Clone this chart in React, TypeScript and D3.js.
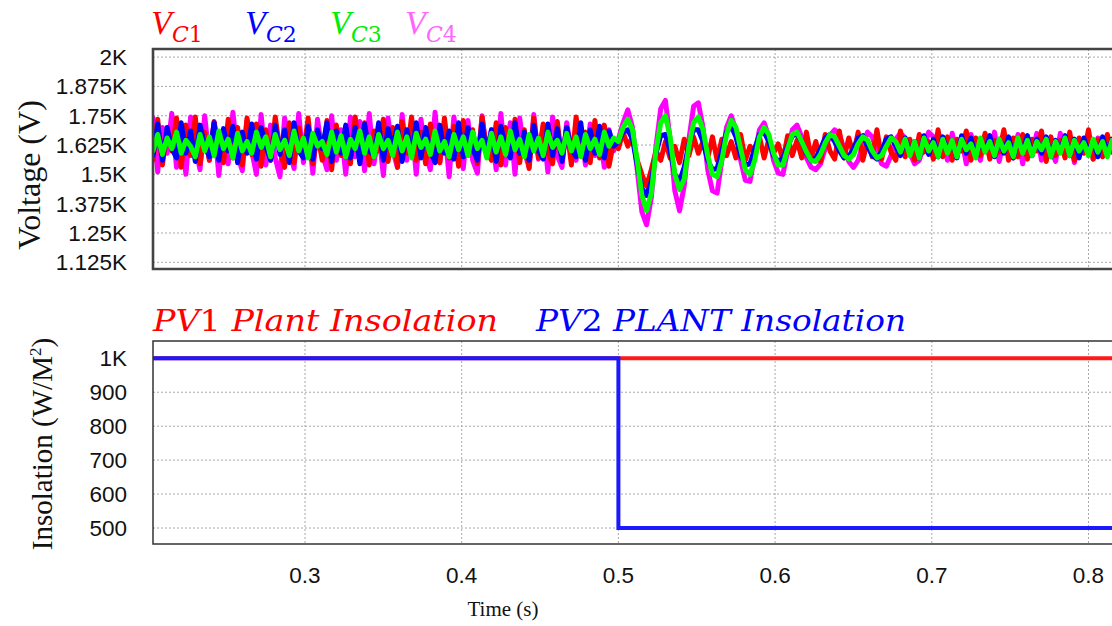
import React from "react";
import * as d3 from "d3";

// ---------------- DATA ----------------
const X_TICKS = [0.3, 0.4, 0.5, 0.6, 0.7, 0.8];
const VOLT_TICKS = [2000, 1875, 1750, 1625, 1500, 1375, 1250, 1125];
const INSOL_TICKS = [1000, 900, 800, 700, 600, 500];

// sampling of the capacitor voltage records
const SEG_A_START = 0.2; // first segment starts here
const SEG_B_START = 0.5; // second segment starts at the insolation step
const SAMPLE_DT = 0.003;

// V_C1 (red)
const VC1_A = [
  1700,1560,1735,1540,1690,1600,1740,1530,1710,1580,
  1745,1545,1680,1560,1725,1600,1550,1735,1570,1700,
  1540,1740,1585,1715,1535,1690,1560,1745,1600,1530,
  1720,1550,1700,1590,1740,1545,1675,1560,1730,1520,
  1710,1580,1690,1545,1745,1570,1720,1540,1685,1600,
  1735,1555,1700,1530,1725,1590,1745,1560,1680,1545,
  1715,1600,1550,1740,1570,1705,1535,1730,1580,1690,
  1545,1745,1600,1560,1720,1540,1700,1585,1735,1550,
  1690,1525,1740,1570,1715,1590,1545,1725,1560,1700,
  1540,1745,1600,1680,1550,1730,1570,1710,1535,1640,
];
const VC1_B = [
  1610,1680,1620,1660,1560,1500,1450,1520,1600,1560,
  1640,1570,1620,1550,1650,1580,1660,1590,1640,1570,
  1660,1560,1650,1580,1640,1570,1670,1560,1620,1590,
  1660,1570,1650,1590,1630,1560,1665,1580,1645,1570,
  1680,1570,1640,1555,1670,1600,1565,1685,1570,1655,
  1585,1680,1560,1645,1575,1690,1565,1660,1595,1560,
  1685,1575,1650,1560,1670,1595,1640,1565,1690,1575,
  1660,1560,1650,1600,1685,1560,1655,1580,1675,1565,
  1645,1595,1690,1560,1655,1575,1670,1565,1650,1600,
  1685,1555,1660,1580,1645,1570,1680,1560,1655,1590,
  1690,1565,1650,1575,1670,1595,
];

// V_C2 (blue)
const VC2_A = [
  1690,1580,1715,1560,1700,1610,1570,1720,1590,1685,
  1555,1710,1620,1575,1720,1560,1695,1600,1705,1550,
  1680,1590,1715,1565,1700,1620,1560,1710,1585,1690,
  1550,1720,1600,1570,1705,1565,1690,1610,1720,1555,
  1685,1590,1710,1570,1700,1545,1715,1600,1580,1720,
  1560,1695,1615,1705,1555,1690,1580,1720,1570,1700,
  1600,1550,1710,1590,1685,1565,1720,1575,1700,1610,
  1560,1715,1585,1690,1555,1705,1620,1570,1720,1590,
  1680,1560,1710,1600,1565,1715,1580,1695,1555,1700,
  1610,1575,1720,1560,1690,1590,1705,1570,1685,1620,
];
const VC2_B = [
  1640,1680,1690,1650,1540,1440,1410,1470,1590,1665,
  1670,1600,1500,1470,1530,1630,1690,1690,1640,1560,
  1520,1525,1600,1680,1705,1660,1580,1540,1545,1610,
  1670,1680,1640,1580,1555,1570,1620,1665,1670,1640,
  1590,1560,1570,1610,1655,1670,1640,1600,1570,1575,
  1610,1655,1665,1620,1580,1565,1600,1650,1660,1620,
  1580,1655,1590,1640,1570,1665,1585,1650,1575,1660,
  1595,1645,1570,1665,1590,1655,1575,1640,1600,1665,
  1575,1650,1590,1660,1570,1645,1605,1665,1580,1650,
  1590,1660,1575,1645,1600,1665,1580,1650,1570,1655,
  1595,1645,1575,1660,1590,1650,
];

// V_C3 (green)
const VC3_A = [
  1640,1600,1670,1585,1655,1610,1680,1590,1645,1620,
  1575,1670,1600,1660,1580,1685,1610,1650,1570,1675,
  1600,1640,1590,1680,1615,1660,1575,1670,1605,1645,
  1580,1685,1600,1655,1570,1675,1620,1640,1585,1680,
  1595,1665,1575,1650,1610,1685,1590,1660,1575,1670,
  1610,1645,1580,1680,1600,1660,1570,1675,1615,1650,
  1585,1685,1600,1640,1575,1670,1605,1660,1580,1680,
  1610,1645,1570,1675,1595,1660,1585,1685,1605,1650,
  1575,1670,1600,1655,1580,1680,1615,1645,1590,1675,
  1600,1660,1575,1670,1610,1650,1585,1680,1620,1655,
];
const VC3_B = [
  1640,1700,1735,1690,1560,1410,1345,1420,1600,1720,
  1750,1660,1500,1435,1480,1620,1720,1745,1690,1580,
  1500,1490,1560,1670,1730,1700,1610,1520,1500,1560,
  1660,1700,1670,1590,1540,1540,1610,1670,1680,1640,
  1595,1560,1555,1585,1635,1670,1660,1620,1580,1565,
  1585,1630,1660,1645,1600,1570,1580,1620,1655,1640,
  1595,1650,1580,1640,1570,1655,1600,1635,1575,1650,
  1590,1645,1575,1650,1605,1630,1570,1655,1595,1640,
  1580,1650,1600,1635,1575,1655,1590,1645,1580,1640,
  1605,1650,1575,1640,1590,1655,1580,1645,1600,1635,
  1580,1650,1595,1640,1575,1645,
];

// V_C4 (magenta)
const VC4_A = [
  1560,1740,1510,1700,1590,1760,1530,1680,1500,1745,
  1620,1520,1750,1560,1720,1495,1690,1545,1765,1580,
  1515,1730,1600,1500,1755,1540,1710,1570,1490,1740,
  1610,1525,1760,1550,1700,1505,1735,1590,1520,1750,
  1560,1690,1500,1745,1575,1725,1515,1760,1545,1680,
  1495,1740,1600,1530,1755,1560,1710,1500,1735,1585,
  1520,1765,1550,1700,1490,1745,1610,1525,1730,1560,
  1505,1750,1580,1690,1520,1760,1540,1720,1500,1740,
  1595,1530,1755,1565,1705,1510,1745,1580,1530,1720,
  1600,1560,1690,1540,1715,1580,1670,1530,1690,1600,
];
const VC4_B = [
  1650,1720,1775,1700,1520,1340,1285,1400,1620,1780,
  1815,1650,1430,1345,1450,1650,1790,1805,1700,1520,
  1430,1420,1560,1700,1750,1690,1560,1475,1470,1580,
  1690,1720,1660,1560,1505,1500,1600,1690,1710,1660,
  1570,1530,1520,1545,1610,1665,1690,1670,1610,1555,
  1530,1560,1625,1680,1660,1600,1545,1535,1580,1650,
  1675,1655,1590,1545,1560,1620,1680,1660,1575,1650,
  1560,1675,1590,1655,1545,1670,1600,1560,1665,1575,
  1680,1555,1650,1600,1570,1670,1545,1660,1590,1675,
  1560,1650,1610,1555,1675,1580,1660,1550,1645,1600,
  1670,1565,1655,1580,1640,1600,
];

// Insolation step (W/m^2)
const PV1_TIMES = [0.2, 0.5, 0.82];
const PV1_VALUES = [1000, 1000, 1000];
const PV2_TIMES = [0.2, 0.5, 0.82];
const PV2_VALUES = [1000, 500, 500];

// ---------------- LAYOUT ----------------
const W = 1112;
const H = 626;
const PLOT_LEFT = 153;
const PLOT_RIGHT = 1116;
const TOP_T = 49;
const TOP_B = 269;
const BOT_T = 341;
const BOT_B = 544;

const x = d3.scaleLinear().domain([0.3, 0.8]).range([305, 1088.5]);
const yTop = d3.scaleLinear().domain([1125, 2000]).range([262.3, 57.1]);
const yBot = d3.scaleLinear().domain([500, 1000]).range([528, 358.3]);

const fmtK = (v: number) => (v >= 1000 ? `${+(v / 1000).toFixed(3)}K` : `${v}`);

function seriesPoints(a: number[], b: number[]): [number, number][] {
  return [
    ...a.map((v, i) => [SEG_A_START + i * SAMPLE_DT, v] as [number, number]),
    ...b.map((v, i) => [SEG_B_START + i * SAMPLE_DT, v] as [number, number]),
  ];
}

const VOLT_SERIES = [
  { name: "VC4", color: "#ff00ff", pts: seriesPoints(VC4_A, VC4_B) },
  { name: "VC1", color: "#ff0000", pts: seriesPoints(VC1_A, VC1_B) },
  { name: "VC2", color: "#0000ff", pts: seriesPoints(VC2_A, VC2_B) },
  { name: "VC3", color: "#00ff00", pts: seriesPoints(VC3_A, VC3_B) },
];

const LEGEND_V = [
  { sub: "C", num: "1", color: "#ff0000", x: 151 },
  { sub: "C", num: "2", color: "#0000ff", x: 245 },
  { sub: "C", num: "3", color: "#00ee00", x: 330 },
  { sub: "C", num: "4", color: "#ff66ff", x: 405 },
];

const TICK_FONT = "'Liberation Sans', Arial, sans-serif";
const SERIF = "'Liberation Serif', 'Times New Roman', serif";
const MATH = "'DejaVu Serif', serif";

export default function App() {
  const lineTop = d3
    .line<[number, number]>()
    .x((d) => x(d[0]))
    .y((d) => yTop(d[1]));
  const stepBot = d3
    .line<[number, number]>()
    .x((d) => x(d[0]))
    .y((d) => yBot(d[1]))
    .curve(d3.curveStepAfter);

  const pv1: [number, number][] = PV1_TIMES.map((t, i) => [t, PV1_VALUES[i]]);
  const pv2: [number, number][] = PV2_TIMES.map((t, i) => [t, PV2_VALUES[i]]);

  return (
    <svg
      width={W}
      height={H}
      style={{ position: "absolute", left: 0, top: 0, background: "#fff" }}
    >
      <defs>
        <clipPath id="clipTop">
          <rect x={PLOT_LEFT} y={TOP_T} width={PLOT_RIGHT - PLOT_LEFT} height={TOP_B - TOP_T} />
        </clipPath>
        <clipPath id="clipBot">
          <rect x={PLOT_LEFT} y={BOT_T} width={PLOT_RIGHT - PLOT_LEFT} height={BOT_B - BOT_T} />
        </clipPath>
      </defs>
      <rect x={0} y={0} width={W} height={H} fill="#fff" />

      {/* Top legend */}
      {LEGEND_V.map((l) => (
        <g key={l.num} fill={l.color}>
          <text x={l.x} y={34} fontSize={34} fontFamily={SERIF} fontStyle="italic">
            V
          </text>
          <text x={l.x + 21} y={42} fontSize={22} fontFamily={MATH}>
            <tspan fontStyle="italic">{l.sub}</tspan>
            <tspan>{l.num}</tspan>
          </text>
        </g>
      ))}

      {/* TOP PLOT grid */}
      {VOLT_TICKS.map((v) => (
        <line key={v} x1={PLOT_LEFT} x2={PLOT_RIGHT} y1={yTop(v)} y2={yTop(v)} stroke="#a8a8a8" strokeWidth={1} strokeDasharray="2,2" />
      ))}
      {X_TICKS.map((t) => (
        <line key={t} x1={x(t)} x2={x(t)} y1={TOP_T} y2={TOP_B} stroke="#a8a8a8" strokeWidth={1} strokeDasharray="2,2" />
      ))}
      <g clipPath="url(#clipTop)">
        {VOLT_SERIES.map((s) => (
          <path key={s.name} d={lineTop(s.pts) || ""} fill="none" stroke={s.color} strokeWidth={5} strokeLinejoin="round" strokeLinecap="round" />
        ))}
      </g>
      <path
        d={`M${PLOT_RIGHT},${TOP_T} H${PLOT_LEFT} V${TOP_B} H${PLOT_RIGHT}`}
        fill="none"
        stroke="#444"
        strokeWidth={2.6}
      />
      {VOLT_TICKS.map((v) => (
        <text key={v} x={127} y={yTop(v) + 8} textAnchor="end" fontSize={22.5} fontFamily={TICK_FONT} fill="#111">
          {fmtK(v)}
        </text>
      ))}
      <text transform="translate(40,175) rotate(-90)" textAnchor="middle" fontSize={32} fontFamily={SERIF} fill="#111">
        Voltage (V)
      </text>

      {/* Bottom legend */}
      <text x={153} y={331} fill="#ff0000" fontFamily={MATH} fontSize={30} fontStyle="italic" textLength={345} lengthAdjust="spacingAndGlyphs">
        PV<tspan fontStyle="normal">1</tspan> Plant Insolation
      </text>
      <text x={536} y={331} fill="#0000ff" fontFamily={MATH} fontSize={30} fontStyle="italic" textLength={370} lengthAdjust="spacingAndGlyphs">
        PV<tspan fontStyle="normal">2</tspan> PLANT Insolation
      </text>

      {/* BOTTOM PLOT grid */}
      {INSOL_TICKS.map((v) => (
        <line key={v} x1={PLOT_LEFT} x2={PLOT_RIGHT} y1={yBot(v)} y2={yBot(v)} stroke="#a8a8a8" strokeWidth={1} strokeDasharray="2,2" />
      ))}
      {X_TICKS.map((t) => (
        <line key={t} x1={x(t)} x2={x(t)} y1={BOT_T} y2={BOT_B} stroke="#a8a8a8" strokeWidth={1} strokeDasharray="2,2" />
      ))}
      <g clipPath="url(#clipBot)">
        <path d={stepBot(pv1) || ""} fill="none" stroke="#ff1a1a" strokeWidth={4} />
        <path d={stepBot(pv2) || ""} fill="none" stroke="#1a1aff" strokeWidth={4} />
      </g>
      <path
        d={`M${PLOT_RIGHT},${BOT_T} H${PLOT_LEFT} V${BOT_B} H${PLOT_RIGHT}`}
        fill="none"
        stroke="#333"
        strokeWidth={1.5}
      />
      {INSOL_TICKS.map((v) => (
        <text key={v} x={127} y={yBot(v) + 8} textAnchor="end" fontSize={22.5} fontFamily={TICK_FONT} fill="#111">
          {fmtK(v)}
        </text>
      ))}
      <text transform="translate(52,444) rotate(-90)" textAnchor="middle" fontSize={29} fontFamily={SERIF} fill="#111">
        Insolation (W/M<tspan fontSize={17} dy={-11}>2</tspan><tspan dy={11}>)</tspan>
      </text>

      {/* X axis */}
      {X_TICKS.map((t) => (
        <text key={t} x={x(t)} y={583} textAnchor="middle" fontSize={22.5} fontFamily={TICK_FONT} fill="#111">
          {t.toFixed(1)}
        </text>
      ))}
      <text x={503} y={616} textAnchor="middle" fontSize={21} fontFamily={SERIF} fill="#111">
        Time (s)
      </text>
    </svg>
  );
}
